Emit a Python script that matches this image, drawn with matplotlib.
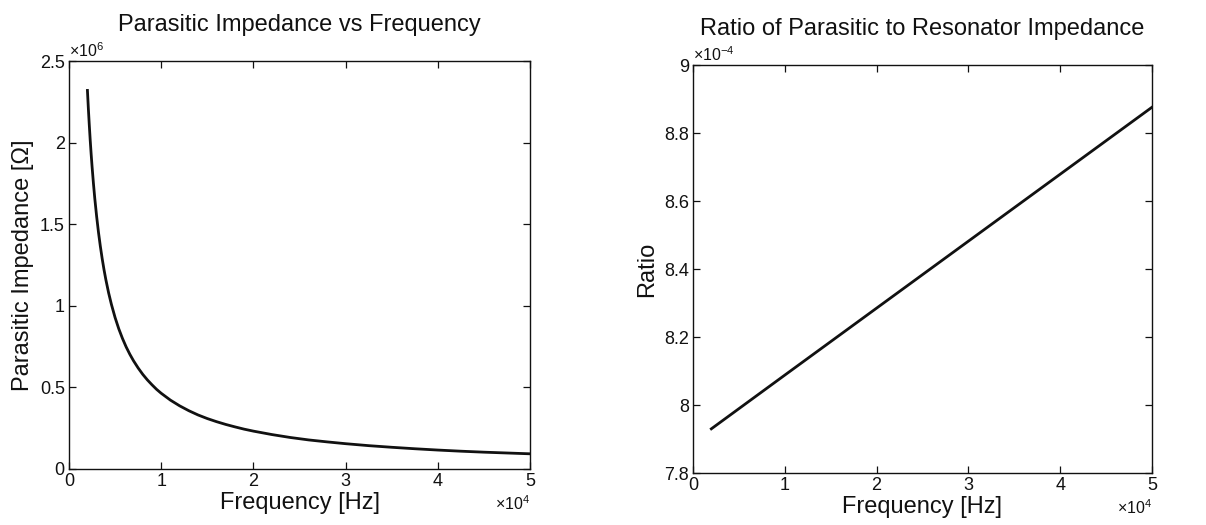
import matplotlib
matplotlib.use("Agg")
import matplotlib.pyplot as plt
from matplotlib.ticker import ScalarFormatter, MultipleLocator

# Parasitic impedance readings (Hz, Ohm)
freq_z = [2000, 2100, 2200, 2300, 2400, 2500, 2650, 2800, 3000, 3200, 3400, 3600,
          3800, 4000, 4300, 4600, 5000, 5400, 5800, 6200, 6600, 7000, 7500, 8000,
          8500, 9000, 9500, 10000, 11000, 12000, 13000, 14000, 15000, 16000, 17000,
          18000, 19000, 20000, 22000, 24000, 26000, 28000, 30000, 32500, 35000,
          37500, 40000, 42500, 45000, 47500, 50000]
impedance = [2.320e6, 2.210e6, 2.110e6, 2.017e6, 1.933e6, 1.856e6, 1.751e6, 1.657e6,
             1.547e6, 1.450e6, 1.365e6, 1.289e6, 1.221e6, 1.160e6, 1.079e6, 1.009e6,
             0.928e6, 0.859e6, 0.800e6, 0.748e6, 0.703e6, 0.663e6, 0.619e6, 0.580e6,
             0.546e6, 0.516e6, 0.488e6, 0.464e6, 0.422e6, 0.387e6, 0.357e6, 0.331e6,
             0.309e6, 0.290e6, 0.273e6, 0.258e6, 0.244e6, 0.232e6, 0.211e6, 0.193e6,
             0.178e6, 0.166e6, 0.155e6, 0.143e6, 0.133e6, 0.124e6, 0.116e6, 0.109e6,
             0.103e6, 0.098e6, 0.093e6]

# Ratio of parasitic to resonator impedance
freq_r = [2000, 10000, 20000, 30000, 40000, 50000]
ratio = [7.93e-4, 8.088e-4, 8.285e-4, 8.482e-4, 8.679e-4, 8.876e-4]

titles = ["Parasitic Impedance vs Frequency", "Ratio of Parasitic to Resonator Impedance"]
xlabel = "Frequency [Hz]"
ylabels = ["Parasitic Impedance [\u03a9]", "Ratio"]

plt.rcParams["font.family"] = ["Liberation Sans", "DejaVu Sans"]
plt.rcParams["mathtext.fontset"] = "custom"
plt.rcParams["mathtext.rm"] = "Liberation Sans"


class PlainFormatter(ScalarFormatter):
    def _set_format(self):
        self.format = "%g"


def style(ax):
    for s in ax.spines.values():
        s.set_linewidth(1.0)
        s.set_color("#111111")
    ax.tick_params(direction="in", length=5, width=0.9, top=True, right=True,
                   labelsize=13, colors="#111111", pad=3)
    for axis in (ax.xaxis, ax.yaxis):
        f = PlainFormatter(useMathText=True)
        f.set_powerlimits((0, 0))
        axis.set_major_formatter(f)
        axis.get_offset_text().set_fontsize(11.5)


fig = plt.figure(figsize=(12.06, 5.25), dpi=100)
ax1 = fig.add_axes([0.0572, 0.1067, 0.3823, 0.777])
ax2 = fig.add_axes([0.5746, 0.0990, 0.3806, 0.777])

ax1.plot(freq_z, impedance, color="#111111", lw=2.0)
ax1.set_xlim(0, 50000)
ax1.set_ylim(0, 2.5e6)
ax1.xaxis.set_major_locator(MultipleLocator(10000))
ax1.yaxis.set_major_locator(MultipleLocator(0.5e6))

ax2.plot(freq_r, ratio, color="#111111", lw=2.0)
ax2.set_xlim(0, 50000)
ax2.set_ylim(7.8e-4, 9e-4)
ax2.xaxis.set_major_locator(MultipleLocator(10000))
ax2.yaxis.set_major_locator(MultipleLocator(0.2e-4))

for ax, t, yl in zip((ax1, ax2), titles, ylabels):
    style(ax)
    ax.set_title(t, fontsize=17, pad=22, color="#111111")
    ax.set_xlabel(xlabel, fontsize=17, color="#111111", labelpad=1)
    ax.set_ylabel(yl, fontsize=17, color="#111111", labelpad=4)

fig.savefig("out.png", dpi=100, facecolor="white")
